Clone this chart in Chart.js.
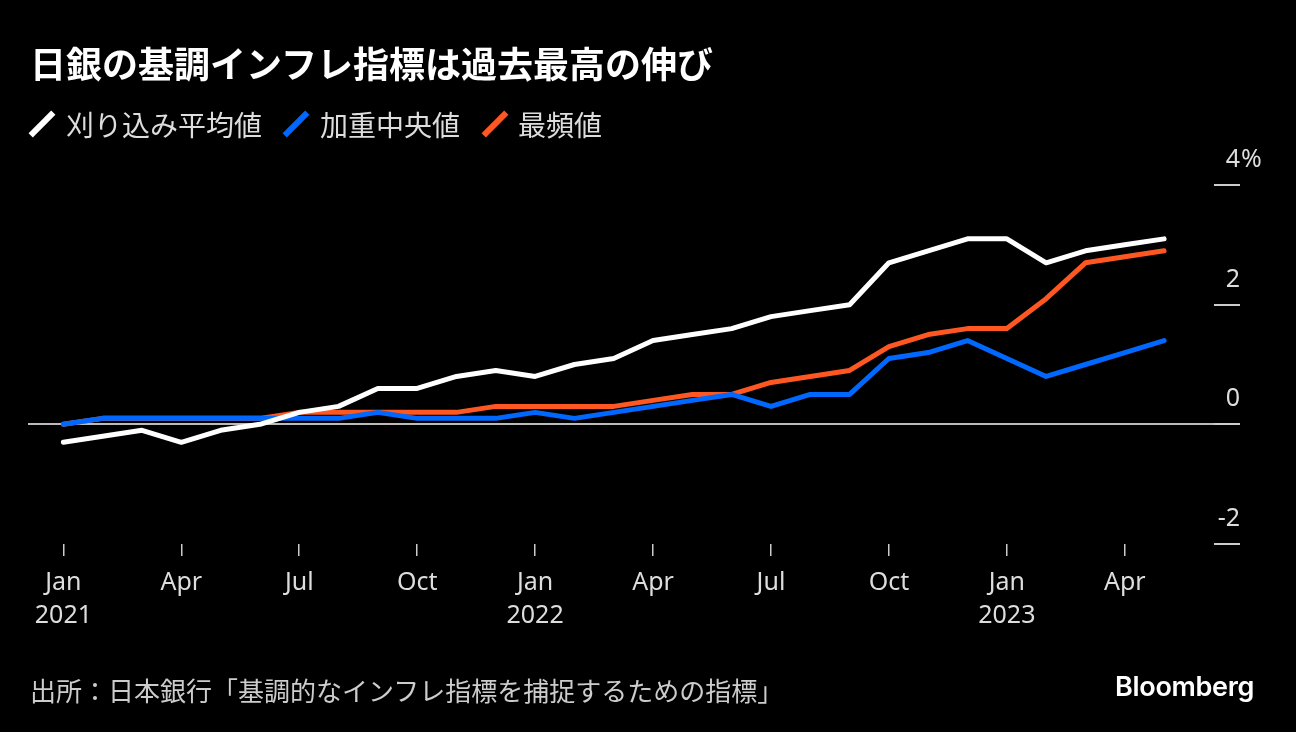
<!DOCTYPE html>
<html>
<head>
<meta charset="utf-8">
<script src="https://cdn.jsdelivr.net/npm/chart.js@4"></script>
<style>
  body { margin: 0; background: #000; width: 1296px; height: 732px; overflow: hidden; position: relative;
         font-family: "Noto Sans CJK JP", "Noto Sans", sans-serif; }
  #wrap { position: absolute; left: 0; top: 0; width: 1296px; height: 732px; }
  .txt { position: absolute; white-space: nowrap; }
  #title { left: 30px; top: 41px; color: #fff; font-size: 36px; font-weight: bold; line-height: 1.2; }
  .leg { top: 107px; color: #ddd; font-size: 28px; line-height: 34px; }
  .mark { position: absolute; width: 32px; height: 6px; transform: rotate(-45deg); }
  #source { left: 30px; top: 673px; color: #ccc; font-size: 26px; line-height: 34px; }
  #logo { left: 1115px; top: 670px; color: #fff; font-family: Inter, Roboto, sans-serif; font-size: 27px;
          font-weight: 600; letter-spacing: -0.3px; line-height: 34px; }
</style>
</head>
<body>
<div id="wrap"><canvas id="chart"></canvas></div>
<div class="txt" id="title">日銀の基調インフレ指標は過去最高の伸び</div>
<div class="mark" style="left:26px;top:121px;background:#fff"></div>
<div class="txt leg" style="left:66px">刈り込み平均値</div>
<div class="mark" style="left:280px;top:121px;background:#0068ff"></div>
<div class="txt leg" style="left:320px">加重中央値</div>
<div class="mark" style="left:479px;top:121px;background:#ff5722"></div>
<div class="txt leg" style="left:518px">最頻値</div>
<div class="txt" id="source">出所：日本銀行「基調的なインフレ指標を捕捉するための指標」</div>
<div class="txt" id="logo">Bloomberg</div>
<script>
// 2021-01 .. 2023-05, monthly
const months = [
  '2021-01','2021-02','2021-03','2021-04','2021-05','2021-06','2021-07','2021-08','2021-09','2021-10','2021-11','2021-12',
  '2022-01','2022-02','2022-03','2022-04','2022-05','2022-06','2022-07','2022-08','2022-09','2022-10','2022-11','2022-12',
  '2023-01','2023-02','2023-03','2023-04','2023-05'
];
const trimmedMean = [-0.3, -0.2, -0.1, -0.3, -0.1, 0.0, 0.2, 0.3, 0.6, 0.6, 0.8, 0.9,
                     0.8, 1.0, 1.1, 1.4, 1.5, 1.6, 1.8, 1.9, 2.0, 2.7, 2.9, 3.1,
                     3.1, 2.7, 2.9, 3.0, 3.1];
const weightedMedian = [0.0, 0.1, 0.1, 0.1, 0.1, 0.1, 0.1, 0.1, 0.2, 0.1, 0.1, 0.1,
                        0.2, 0.1, 0.2, 0.3, 0.4, 0.5, 0.3, 0.5, 0.5, 1.1, 1.2, 1.4,
                        1.1, 0.8, 1.0, 1.2, 1.4];
const mode = [0.0, 0.1, 0.1, 0.1, 0.1, 0.1, 0.2, 0.2, 0.2, 0.2, 0.2, 0.3,
              0.3, 0.3, 0.3, 0.4, 0.5, 0.5, 0.7, 0.8, 0.9, 1.3, 1.5, 1.6,
              1.6, 2.1, 2.7, 2.8, 2.9];
const monthNames = {'01': 'Jan', '04': 'Apr', '07': 'Jul', '10': 'Oct'};
const yTicks = [-2, 0, 2, 4];

const toPoints = arr => arr.map((v, i) => ({ x: i, y: v }));
const xTickIdx = months.map((m, i) => i).filter(i => monthNames[months[i].slice(5)]);

// "%" sits to the right of the top label, past the tick mark
const percentSign = {
  id: 'percentSign',
  afterDraw(chart) {
    const s = chart.scales.y;
    const ctx = chart.ctx;
    ctx.save();
    ctx.font = '25px "Noto Sans", sans-serif';
    ctx.fillStyle = '#ddd';
    ctx.textAlign = 'left';
    ctx.textBaseline = 'middle';
    ctx.fillText('%', s.left + 27, s.getPixelForValue(4) - 25);
    ctx.restore();
  }
};

const line = (data, color) => ({
  data: toPoints(data),
  borderColor: color,
  borderWidth: 5,
  borderCapStyle: 'round',
  borderJoinStyle: 'round',
  pointRadius: 0,
  tension: 0
});

new Chart(document.getElementById('chart'), {
  type: 'line',
  data: {
    datasets: [
      { label: '刈り込み平均値', ...line(trimmedMean, '#ffffff') },
      { label: '加重中央値', ...line(weightedMedian, '#0068ff') },
      { label: '最頻値', ...line(mode, '#ff5722') }
    ]
  },
  options: {
    responsive: true,
    maintainAspectRatio: false,
    animation: false,
    layout: { padding: { left: 28, right: 4, top: 185, bottom: 90 } },
    plugins: { legend: { display: false }, tooltip: { enabled: false } },
    scales: {
      x: {
        type: 'linear',
        min: -0.9,
        max: 29.27,
        afterBuildTicks: s => { s.ticks = xTickIdx.map(v => ({ value: v })); },
        border: { display: false },
        grid: { drawOnChartArea: false, tickLength: 12, tickColor: '#ccc', lineWidth: 1.5 },
        ticks: {
          autoSkip: false, maxRotation: 0, padding: 10, color: '#ddd',
          font: { family: '"Noto Sans", sans-serif', size: 25, lineHeight: 1.32 },
          callback: v => {
            const m = months[v];
            const name = monthNames[m.slice(5)];
            return name === 'Jan' ? [name, m.slice(0, 4)] : name;
          }
        }
      },
      y: {
        position: 'right',
        min: -2,
        max: 4,
        afterBuildTicks: s => { s.ticks = yTicks.map(v => ({ value: v })); },
        border: { display: false },
        grid: {
          tickLength: 26,
          lineWidth: 2,
          color: c => (c.tick && c.tick.value === 0 ? '#bbb' : 'rgba(0,0,0,0)'),
          tickColor: '#ccc'
        },
        ticks: {
          mirror: true, padding: 26, labelOffset: -25, color: '#ddd',
          font: { family: '"Noto Sans", sans-serif', size: 25 },
          callback: v => String(v)
        }
      }
    }
  },
  plugins: [percentSign]
});
</script>
</body>
</html>
